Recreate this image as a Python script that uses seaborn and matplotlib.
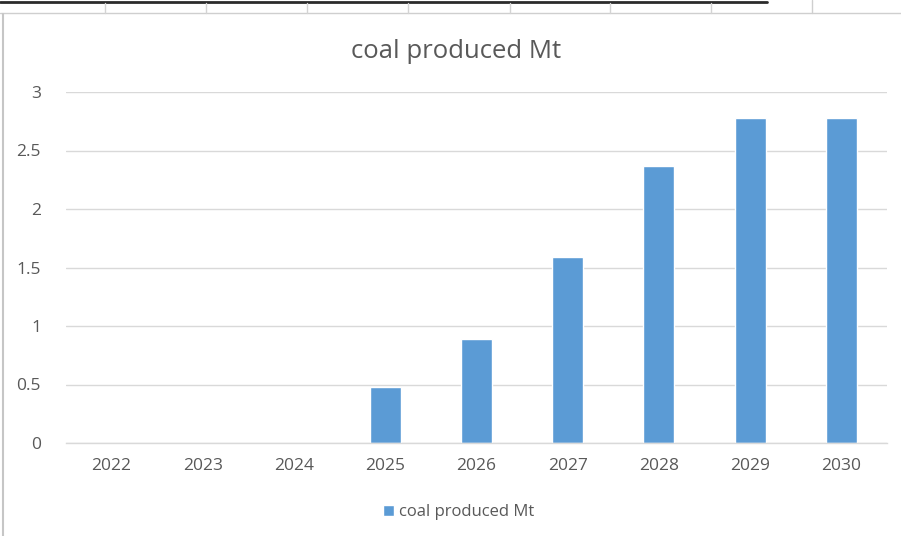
import matplotlib
matplotlib.use("Agg")
import matplotlib.pyplot as plt
from matplotlib.lines import Line2D
import seaborn as sns
import pandas as pd

years = ["2022", "2023", "2024", "2025", "2026", "2027", "2028", "2029", "2030"]
coal_mt = [0, 0, 0, 0.48, 0.89, 1.59, 2.37, 2.78, 2.78]
series_name = "coal produced Mt"
y_ticks = [0, 0.5, 1, 1.5, 2, 2.5, 3]
y_tick_labels = ["0", "0.5", "1", "1.5", "2", "2.5", "3"]

sns.set_theme(style="white")
plt.rcParams["font.family"] = ["Open Sans", "DejaVu Sans"]

BAR = "#5B9BD5"
TEXT = "#595959"
GRID = "#D9D9D9"

W, H = 901, 536
fig = plt.figure(figsize=(W / 100, H / 100), dpi=100)
fig.patch.set_facecolor("white")

ax = fig.add_axes([66 / W, 1 - 443 / H, (887 - 66) / W, (443 - 92) / H])

df = pd.DataFrame({"year": years, "value": coal_mt})
sns.barplot(data=df, x="year", y="value", color=BAR, width=0.34,
            saturation=1, label=series_name, ax=ax)

ax.set_ylim(0, 3)
ax.set_xlim(-0.5, len(years) - 0.5)
ax.set_yticks(y_ticks)
ax.set_yticklabels(y_tick_labels)
ax.set_xlabel("")
ax.set_ylabel("")
ax.grid(axis="y", color=GRID, linewidth=1)
ax.set_axisbelow(True)
for side in ["top", "right", "left"]:
    ax.spines[side].set_visible(False)
ax.spines["bottom"].set_color(GRID)
ax.spines["bottom"].set_linewidth(1)
ax.tick_params(axis="both", length=0, colors=TEXT, labelsize=12.5)
ax.tick_params(axis="y", pad=18)
ax.tick_params(axis="x", pad=11)

fig.text(456 / W, 1 - 51 / H, "coal produced Mt", ha="center", va="center",
         fontsize=18.5, color=TEXT)

ax.legend(loc="center", bbox_to_anchor=(459 / W, 1 - 512 / H), bbox_transform=fig.transFigure,
          frameon=False, fontsize=12, labelcolor=TEXT, handlelength=0.65,
          handleheight=0.65, handletextpad=0.3)

# spreadsheet cell grid above the chart frame
def fig_line(x0, y0, x1, y1, color, lw):
    fig.add_artist(Line2D([x0 / W, x1 / W], [1 - y0 / H, 1 - y1 / H],
                          transform=fig.transFigure, color=color, linewidth=lw))

fig_line(0, 1.5, 767, 1.5, "#2b2b2b", 2.0)
fig_line(0, 12.5, W, 12.5, "#cfcfcf", 1.0)
for cx in [105, 206, 307, 408, 510, 610, 711]:
    fig_line(cx, 3, cx, 12.5, "#d4d4d4", 1.0)
fig_line(812, 0, 812, 12.5, "#cfcfcf", 1.0)
fig_line(3, 14, 3, H, "#c6c6c6", 1.5)

fig.savefig("out.png", dpi=100, facecolor="white")
